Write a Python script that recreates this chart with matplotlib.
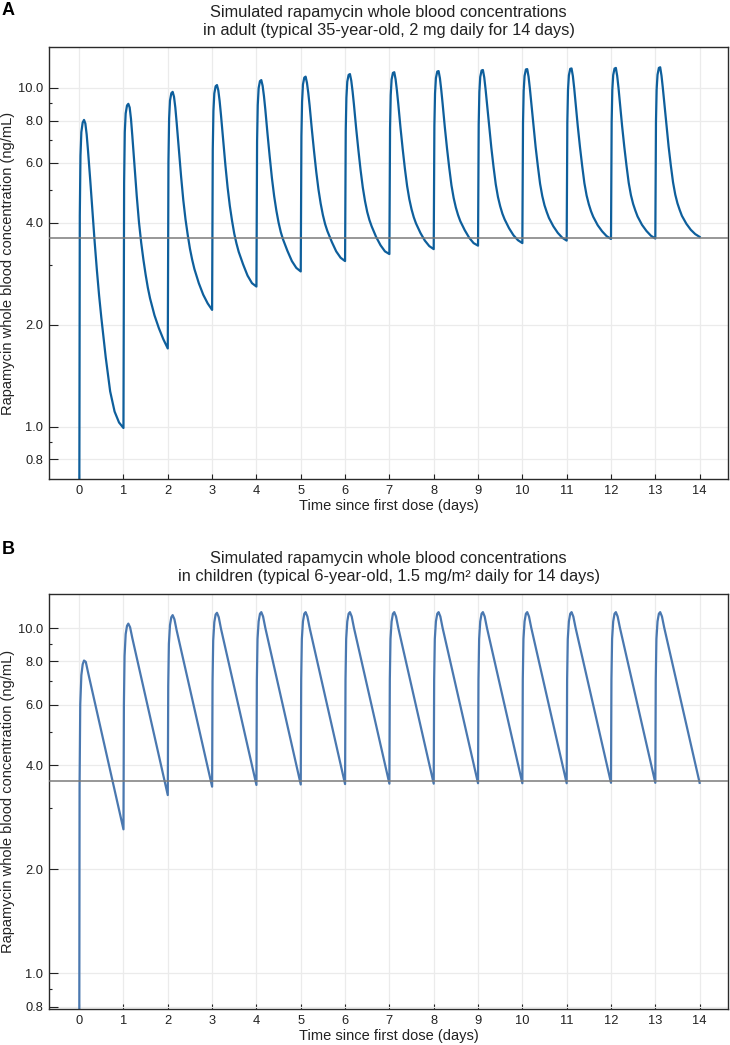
"""
Simulated rapamycin whole blood concentrations, adult vs child (two panels).
"""
import matplotlib
matplotlib.use("Agg")

import matplotlib.pyplot as plt
from matplotlib.ticker import FixedLocator, FixedFormatter, NullFormatter

plt.rcParams["font.family"] = ["Liberation Sans", "DejaVu Sans"]


# ══════════════════════════════════════════════════════════════════════════════
#  DATA  (concentrations in ng/mL)
# ══════════════════════════════════════════════════════════════════════════════

DOSE_DAYS = list(range(14))
REF_LEVEL = 3.6

X_TICKS   = list(range(15))
Y_MAJOR   = [0.8, 1.0, 2.0, 4.0, 6.0, 8.0, 10.0]
Y_LABELS  = ["0.8", "1.0", "2.0", "4.0", "6.0", "8.0", "10.0"]
Y_MINOR   = [0.9, 3.0, 5.0, 7.0, 9.0]

# Panel A — adult: sample times within each dosing day (fraction of a day)
ADULT_OFFSETS = [0.0, 0.015, 0.03, 0.05, 0.08, 0.11, 0.14, 0.17, 0.20, 0.25,
                 0.30, 0.35, 0.40, 0.45, 0.50, 0.55, 0.60, 0.70, 0.80, 0.90]
ADULT_CONC = [
    [0.30, 4.2, 6.3, 7.4, 7.9, 8.04, 7.85, 7.28, 6.53, 5.35,
     4.32, 3.51, 2.90, 2.44, 2.10, 1.83, 1.60, 1.27, 1.107, 1.028],
    [0.99, 5.25, 7.4, 8.4, 8.87, 8.97, 8.75, 8.09, 7.21, 5.89,
     4.79, 4.01, 3.49, 3.11, 2.81, 2.57, 2.39, 2.13, 1.95, 1.81],
    [1.70, 6.05, 8.12, 9.17, 9.64, 9.73, 9.42, 8.75, 7.90, 6.57,
     5.48, 4.66, 4.09, 3.68, 3.35, 3.11, 2.92, 2.65, 2.45, 2.31],
    [2.21, 6.56, 8.55, 9.63, 10.11, 10.19, 9.83, 9.14, 8.32, 6.99,
     5.91, 5.08, 4.48, 4.05, 3.71, 3.47, 3.28, 3.01, 2.79, 2.65],
    [2.59, 6.96, 8.89, 9.98, 10.47, 10.54, 10.14, 9.45, 8.65, 7.32,
     6.26, 5.41, 4.79, 4.34, 4.00, 3.75, 3.57, 3.30, 3.08, 2.94],
    [2.87, 7.2, 9.1, 10.23, 10.72, 10.79, 10.35, 9.66, 8.87, 7.55,
     6.50, 5.65, 5.01, 4.55, 4.21, 3.96, 3.78, 3.51, 3.29, 3.15],
    [3.08, 7.45, 9.34, 10.43, 10.92, 10.98, 10.50, 9.75, 8.93, 7.60,
     6.56, 5.72, 5.08, 4.63, 4.30, 4.07, 3.90, 3.63, 3.43, 3.29],
    [3.23, 7.60, 9.51, 10.58, 11.07, 11.12, 10.60, 9.82, 8.98, 7.64,
     6.60, 5.77, 5.13, 4.69, 4.38, 4.15, 3.98, 3.73, 3.54, 3.41],
    [3.34, 7.71, 9.63, 10.69, 11.17, 11.21, 10.68, 9.87, 9.01, 7.67,
     6.63, 5.81, 5.16, 4.73, 4.43, 4.21, 4.04, 3.80, 3.61, 3.48],
    [3.42, 7.79, 9.72, 10.77, 11.25, 11.29, 10.74, 9.91, 9.03, 7.69,
     6.66, 5.84, 5.19, 4.76, 4.47, 4.25, 4.09, 3.85, 3.67, 3.55],
    [3.48, 7.87, 9.80, 10.84, 11.33, 11.36, 10.79, 9.95, 9.06, 7.71,
     6.68, 5.87, 5.21, 4.79, 4.50, 4.30, 4.13, 3.90, 3.73, 3.61],
    [3.54, 7.92, 9.86, 10.89, 11.38, 11.41, 10.83, 9.97, 9.07, 7.72,
     6.69, 5.88, 5.23, 4.81, 4.53, 4.32, 4.16, 3.93, 3.77, 3.65],
    [3.58, 7.94, 9.88, 10.91, 11.40, 11.45, 10.84, 9.98, 9.08, 7.73,
     6.70, 5.89, 5.24, 4.82, 4.54, 4.34, 4.17, 3.94, 3.78, 3.66],
    [3.59, 7.96, 9.90, 10.93, 11.45, 11.50, 10.85, 9.98, 9.09, 7.74,
     6.71, 5.90, 5.26, 4.84, 4.56, 4.36, 4.19, 3.97, 3.81, 3.70],
]
ADULT_FINAL = 3.63

# Panel B — child: log-linear decline after the peak
CHILD_OFFSETS = [0.0, 0.01, 0.025, 0.05, 0.08, 0.11, 0.15, 0.20]
CHILD_CONC = [
    [0.30, 3.5, 6.0, 7.3, 7.85, 8.05, 7.98, 7.45],
    [2.61, 6.0, 8.3, 9.6, 10.15, 10.3, 10.05, 9.35],
    [3.28, 6.8, 9.0, 10.2, 10.75, 10.9, 10.6, 9.85],
    [3.47, 7.0, 9.2, 10.4, 10.95, 11.07, 10.75, 9.96],
    [3.51, 7.1, 9.3, 10.45, 11.0, 11.12, 10.8, 10.02],
    [3.52, 7.1, 9.3, 10.45, 11.0, 11.12, 10.8, 10.02],
    [3.53, 7.1, 9.3, 10.45, 11.0, 11.12, 10.8, 10.02],
    [3.54, 7.1, 9.3, 10.45, 11.0, 11.12, 10.8, 10.02],
    [3.54, 7.1, 9.3, 10.45, 11.0, 11.12, 10.8, 10.02],
    [3.55, 7.1, 9.3, 10.45, 11.0, 11.12, 10.8, 10.03],
    [3.55, 7.1, 9.3, 10.45, 11.0, 11.12, 10.8, 10.03],
    [3.55, 7.1, 9.3, 10.45, 11.0, 11.12, 10.8, 10.03],
    [3.56, 7.1, 9.3, 10.45, 11.0, 11.12, 10.8, 10.04],
    [3.56, 7.1, 9.3, 10.45, 11.0, 11.12, 10.8, 10.04],
]
CHILD_FINAL = 3.56

TITLE_A = ("Simulated rapamycin whole blood concentrations\n"
           "in adult (typical 35-year-old, 2 mg daily for 14 days)")
TITLE_B = ("Simulated rapamycin whole blood concentrations\n"
           "in children (typical 6-year-old, 1.5 mg/m\u00b2 daily for 14 days)")
XLABEL  = "Time since first dose (days)"
YLABEL  = "Rapamycin whole blood concentration (ng/mL)"


# ══════════════════════════════════════════════════════════════════════════════
#  HELPERS
# ══════════════════════════════════════════════════════════════════════════════

def _series(offsets, conc, final):
    t, c = [], []
    for day, row in zip(DOSE_DAYS, conc):
        t += [day + o for o in offsets]
        c += row
    t.append(DOSE_DAYS[-1] + 1)
    c.append(final)
    return t, c


def _style_axes(ax, ylim):
    ax.set_yscale("log")
    ax.set_xlim(-0.68, 14.64)
    ax.set_ylim(*ylim)

    ax.xaxis.set_major_locator(FixedLocator(X_TICKS))
    ax.yaxis.set_major_locator(FixedLocator(Y_MAJOR))
    ax.yaxis.set_major_formatter(FixedFormatter(Y_LABELS))
    ax.yaxis.set_minor_locator(FixedLocator(Y_MINOR))
    ax.yaxis.set_minor_formatter(NullFormatter())

    ax.grid(True, which="major", color="#ebebeb", linewidth=0.9, zorder=0)
    ax.set_axisbelow(True)

    ax.tick_params(axis="y", which="major", direction="in", length=6.5,
                   width=0.8, pad=4, labelsize=9.3, colors="#222222")
    ax.tick_params(axis="y", which="minor", direction="in", length=2.5,
                   width=0.8, color="#222222")
    ax.tick_params(axis="x", which="major", direction="in", length=3.5,
                   width=0.8, pad=4.5, labelsize=9.3, colors="#222222")
    for s in ax.spines.values():
        s.set_color("#2a2a2a")
        s.set_linewidth(1.0)

    ax.set_xlabel(XLABEL, fontsize=10.5, labelpad=1.0, color="#222222")
    ax.set_ylabel(YLABEL, fontsize=10.5, labelpad=2, color="#222222")


def _panel(ax, offsets, conc, final, color, title, ylim):
    _style_axes(ax, ylim)
    t, c = _series(offsets, conc, final)
    ax.plot(t, c, color=color, linewidth=1.6, solid_joinstyle="round", zorder=2)
    ax.axhline(REF_LEVEL, color="#7a7a7a", linewidth=1.1, zorder=3)
    ax.set_title(title, fontsize=11.8, pad=9, linespacing=1.25, color="#222222")


# ══════════════════════════════════════════════════════════════════════════════
#  RENDER
# ══════════════════════════════════════════════════════════════════════════════

W, H = 730, 1045
fig = plt.figure(figsize=(W / 100, H / 100), dpi=100)

ax_a = fig.add_axes([49 / W, 1 - 479 / H, (728 - 49) / W, (479 - 47) / H])
ax_b = fig.add_axes([49 / W, 1 - 1009 / H, (728 - 49) / W, (1009 - 594) / H])

_panel(ax_a, ADULT_OFFSETS, ADULT_CONC, ADULT_FINAL, "#0e5f9c", TITLE_A, (0.70, 13.2))
_panel(ax_b, CHILD_OFFSETS, CHILD_CONC, CHILD_FINAL, "#4a78b0", TITLE_B, (0.787, 12.55))

fig.text(0.002, 0.998, "A", fontsize=13, fontweight="bold", va="top", ha="left")
fig.text(0.002, 1 - 541 / H, "B", fontsize=13, fontweight="bold", va="top", ha="left")

fig.savefig("out.png", dpi=100, facecolor="white")
plt.close(fig)
